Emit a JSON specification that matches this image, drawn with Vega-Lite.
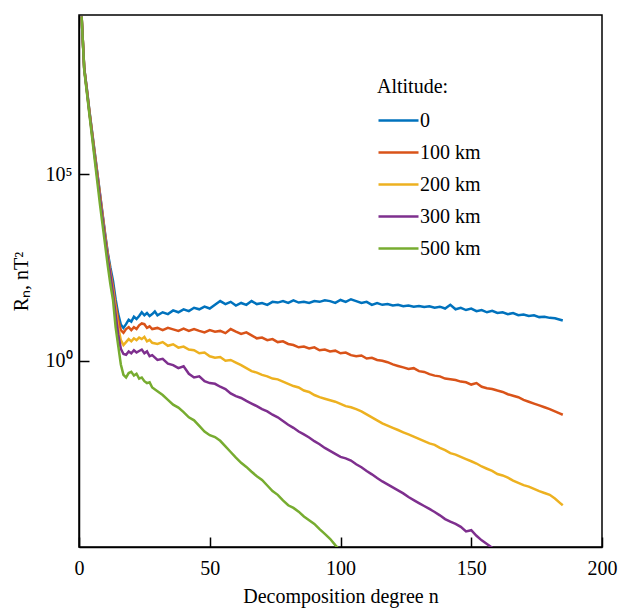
{
"$schema":"https://vega.github.io/schema/vega-lite/v6.json",
"width":523,"height":532,
"autosize":{"type":"none"},
"padding":{"left":79,"top":15,"right":16,"bottom":61},
"background":"white",
"config":{"view":{"stroke":"black","strokeWidth":1.5},"font":"Liberation Serif"},
"data":{"values":[
{"a":"0","n":1,"R":1.738e9},{"a":"0","n":2,"R":7.079e7},{"a":"0","n":3,"R":1.995e7},{"a":"0","n":4,"R":5.012e6},{"a":"0","n":5,"R":1.413e6},{"a":"0","n":6,"R":3.981e5},{"a":"0","n":7,"R":1.122e5},{"a":"0","n":8,"R":3.162e4},{"a":"0","n":9,"R":8913},{"a":"0","n":10,"R":2512},{"a":"0","n":11,"R":794.3},{"a":"0","n":12,"R":316.2},{"a":"0","n":13,"R":141.3},{"a":"0","n":14,"R":44.67},{"a":"0","n":15,"R":17.78},{"a":"0","n":16,"R":9.333},{"a":"0","n":17,"R":7.586},{"a":"0","n":18,"R":9.55},{"a":"0","n":19,"R":12.59},{"a":"0","n":20,"R":11.22},{"a":"0","n":21,"R":15.14},{"a":"0","n":22,"R":13.18},{"a":"0","n":23,"R":15.85},{"a":"0","n":24,"R":19.95},{"a":"0","n":25,"R":16.6},{"a":"0","n":26,"R":19.05},{"a":"0","n":27,"R":15.85},{"a":"0","n":28,"R":17.78},{"a":"0","n":29,"R":20.89},{"a":"0","n":30,"R":16.6},{"a":"0","n":32,"R":19.95},{"a":"0","n":34,"R":17.78},{"a":"0","n":36,"R":22.39},{"a":"0","n":38,"R":19.95},{"a":"0","n":40,"R":23.99},{"a":"0","n":42,"R":21.38},{"a":"0","n":44,"R":26.3},{"a":"0","n":46,"R":23.99},{"a":"0","n":48,"R":28.18},{"a":"0","n":50,"R":25.12},{"a":"0","n":52,"R":31.62},{"a":"0","n":54,"R":39.81},{"a":"0","n":56,"R":33.11},{"a":"0","n":58,"R":38.02},{"a":"0","n":60,"R":30.2},{"a":"0","n":62,"R":35.48},{"a":"0","n":64,"R":31.62},{"a":"0","n":66,"R":39.81},{"a":"0","n":68,"R":33.11},{"a":"0","n":70,"R":35.48},{"a":"0","n":72,"R":31.62},{"a":"0","n":74,"R":38.02},{"a":"0","n":76,"R":36.31},{"a":"0","n":78,"R":39.81},{"a":"0","n":80,"R":35.48},{"a":"0","n":82,"R":41.69},{"a":"0","n":84,"R":36.31},{"a":"0","n":86,"R":38.02},{"a":"0","n":88,"R":35.48},{"a":"0","n":90,"R":39.81},{"a":"0","n":92,"R":38.02},{"a":"0","n":94,"R":41.69},{"a":"0","n":96,"R":39.81},{"a":"0","n":98,"R":35.48},{"a":"0","n":100,"R":42.66},{"a":"0","n":102,"R":38.02},{"a":"0","n":104,"R":44.67},{"a":"0","n":106,"R":39.81},{"a":"0","n":108,"R":35.48},{"a":"0","n":110,"R":38.02},{"a":"0","n":112,"R":31.62},{"a":"0","n":114,"R":35.48},{"a":"0","n":116,"R":31.62},{"a":"0","n":118,"R":33.11},{"a":"0","n":120,"R":30.2},{"a":"0","n":122,"R":31.62},{"a":"0","n":124,"R":28.84},{"a":"0","n":126,"R":30.2},{"a":"0","n":128,"R":28.18},{"a":"0","n":130,"R":29.51},{"a":"0","n":132,"R":27.54},{"a":"0","n":134,"R":28.84},{"a":"0","n":136,"R":26.3},{"a":"0","n":138,"R":28.18},{"a":"0","n":140,"R":25.12},{"a":"0","n":142,"R":31.62},{"a":"0","n":144,"R":23.99},{"a":"0","n":146,"R":26.3},{"a":"0","n":148,"R":22.91},{"a":"0","n":150,"R":25.12},{"a":"0","n":152,"R":21.38},{"a":"0","n":154,"R":22.91},{"a":"0","n":156,"R":19.95},{"a":"0","n":158,"R":21.88},{"a":"0","n":160,"R":19.05},{"a":"0","n":162,"R":19.95},{"a":"0","n":164,"R":17.78},{"a":"0","n":166,"R":19.05},{"a":"0","n":168,"R":16.6},{"a":"0","n":170,"R":17.38},{"a":"0","n":172,"R":15.85},{"a":"0","n":174,"R":16.6},{"a":"0","n":176,"R":14.79},{"a":"0","n":178,"R":15.14},{"a":"0","n":180,"R":14.13},{"a":"0","n":182,"R":13.8},{"a":"0","n":184,"R":12.59},{"a":"0","n":185,"R":12.02},
{"a":"100 km","n":1,"R":1.738e9},{"a":"100 km","n":2,"R":7.079e7},{"a":"100 km","n":3,"R":1.905e7},{"a":"100 km","n":4,"R":4.786e6},{"a":"100 km","n":5,"R":1.318e6},{"a":"100 km","n":6,"R":3.715e5},{"a":"100 km","n":7,"R":1.047e5},{"a":"100 km","n":8,"R":2.951e4},{"a":"100 km","n":9,"R":8318},{"a":"100 km","n":10,"R":2344},{"a":"100 km","n":11,"R":707.9},{"a":"100 km","n":12,"R":251.2},{"a":"100 km","n":13,"R":100},{"a":"100 km","n":14,"R":31.62},{"a":"100 km","n":15,"R":12.59},{"a":"100 km","n":16,"R":6.607},{"a":"100 km","n":17,"R":5.623},{"a":"100 km","n":18,"R":7.079},{"a":"100 km","n":19,"R":7.943},{"a":"100 km","n":20,"R":6.607},{"a":"100 km","n":21,"R":7.943},{"a":"100 km","n":22,"R":7.079},{"a":"100 km","n":23,"R":8.913},{"a":"100 km","n":24,"R":10},{"a":"100 km","n":25,"R":9.55},{"a":"100 km","n":26,"R":7.586},{"a":"100 km","n":27,"R":8.318},{"a":"100 km","n":28,"R":7.079},{"a":"100 km","n":30,"R":7.586},{"a":"100 km","n":32,"R":6.607},{"a":"100 km","n":34,"R":7.586},{"a":"100 km","n":36,"R":6.918},{"a":"100 km","n":38,"R":6.31},{"a":"100 km","n":40,"R":7.244},{"a":"100 km","n":42,"R":6.31},{"a":"100 km","n":44,"R":7.079},{"a":"100 km","n":46,"R":6.31},{"a":"100 km","n":48,"R":5.754},{"a":"100 km","n":50,"R":6.607},{"a":"100 km","n":52,"R":6.026},{"a":"100 km","n":54,"R":6.31},{"a":"100 km","n":56,"R":5.495},{"a":"100 km","n":58,"R":7.079},{"a":"100 km","n":60,"R":6.026},{"a":"100 km","n":62,"R":5.248},{"a":"100 km","n":64,"R":5.754},{"a":"100 km","n":66,"R":4.786},{"a":"100 km","n":68,"R":3.981},{"a":"100 km","n":70,"R":4.169},{"a":"100 km","n":72,"R":3.548},{"a":"100 km","n":74,"R":3.802},{"a":"100 km","n":76,"R":3.162},{"a":"100 km","n":78,"R":3.311},{"a":"100 km","n":80,"R":2.818},{"a":"100 km","n":82,"R":2.63},{"a":"100 km","n":84,"R":2.291},{"a":"100 km","n":86,"R":2.399},{"a":"100 km","n":88,"R":2.138},{"a":"100 km","n":90,"R":2.291},{"a":"100 km","n":92,"R":1.905},{"a":"100 km","n":94,"R":1.995},{"a":"100 km","n":96,"R":1.778},{"a":"100 km","n":98,"R":1.862},{"a":"100 km","n":100,"R":1.585},{"a":"100 km","n":102,"R":1.66},{"a":"100 km","n":104,"R":1.413},{"a":"100 km","n":106,"R":1.318},{"a":"100 km","n":108,"R":1.38},{"a":"100 km","n":110,"R":1.148},{"a":"100 km","n":112,"R":1.202},{"a":"100 km","n":114,"R":1.047},{"a":"100 km","n":116,"R":1.0},{"a":"100 km","n":118,"R":0.912},{"a":"100 km","n":120,"R":0.794},{"a":"100 km","n":122,"R":0.724},{"a":"100 km","n":124,"R":0.661},{"a":"100 km","n":126,"R":0.603},{"a":"100 km","n":128,"R":0.631},{"a":"100 km","n":130,"R":0.525},{"a":"100 km","n":132,"R":0.501},{"a":"100 km","n":134,"R":0.437},{"a":"100 km","n":136,"R":0.398},{"a":"100 km","n":138,"R":0.38},{"a":"100 km","n":140,"R":0.331},{"a":"100 km","n":142,"R":0.316},{"a":"100 km","n":144,"R":0.302},{"a":"100 km","n":146,"R":0.275},{"a":"100 km","n":148,"R":0.263},{"a":"100 km","n":150,"R":0.229},{"a":"100 km","n":152,"R":0.251},{"a":"100 km","n":154,"R":0.2},{"a":"100 km","n":156,"R":0.182},{"a":"100 km","n":158,"R":0.174},{"a":"100 km","n":160,"R":0.158},{"a":"100 km","n":162,"R":0.145},{"a":"100 km","n":164,"R":0.126},{"a":"100 km","n":166,"R":0.115},{"a":"100 km","n":168,"R":0.105},{"a":"100 km","n":170,"R":0.0891},{"a":"100 km","n":172,"R":0.0794},{"a":"100 km","n":174,"R":0.0708},{"a":"100 km","n":176,"R":0.0631},{"a":"100 km","n":178,"R":0.0562},{"a":"100 km","n":180,"R":0.0501},{"a":"100 km","n":182,"R":0.0437},{"a":"100 km","n":184,"R":0.038},{"a":"100 km","n":185,"R":0.0355},
{"a":"200 km","n":1,"R":1.738e9},{"a":"200 km","n":2,"R":6.918e7},{"a":"200 km","n":3,"R":1.82e7},{"a":"200 km","n":4,"R":4.571e6},{"a":"200 km","n":5,"R":1.259e6},{"a":"200 km","n":6,"R":3.467e5},{"a":"200 km","n":7,"R":9.55e4},{"a":"200 km","n":8,"R":2.692e4},{"a":"200 km","n":9,"R":7586},{"a":"200 km","n":10,"R":2138},{"a":"200 km","n":11,"R":631},{"a":"200 km","n":12,"R":223.9},{"a":"200 km","n":13,"R":79.43},{"a":"200 km","n":14,"R":25.12},{"a":"200 km","n":15,"R":7.943},{"a":"200 km","n":16,"R":3.548},{"a":"200 km","n":17,"R":2.63},{"a":"200 km","n":18,"R":3.162},{"a":"200 km","n":19,"R":3.802},{"a":"200 km","n":20,"R":3.311},{"a":"200 km","n":21,"R":3.981},{"a":"200 km","n":22,"R":3.548},{"a":"200 km","n":23,"R":4.169},{"a":"200 km","n":24,"R":3.802},{"a":"200 km","n":25,"R":4.365},{"a":"200 km","n":26,"R":3.311},{"a":"200 km","n":27,"R":3.631},{"a":"200 km","n":28,"R":3.02},{"a":"200 km","n":30,"R":2.818},{"a":"200 km","n":32,"R":3.162},{"a":"200 km","n":34,"R":2.512},{"a":"200 km","n":36,"R":2.754},{"a":"200 km","n":38,"R":2.239},{"a":"200 km","n":40,"R":2.399},{"a":"200 km","n":42,"R":1.995},{"a":"200 km","n":44,"R":1.905},{"a":"200 km","n":46,"R":1.585},{"a":"200 km","n":48,"R":1.66},{"a":"200 km","n":50,"R":1.318},{"a":"200 km","n":52,"R":1.202},{"a":"200 km","n":54,"R":1.259},{"a":"200 km","n":56,"R":1.0},{"a":"200 km","n":58,"R":1.047},{"a":"200 km","n":60,"R":0.891},{"a":"200 km","n":62,"R":0.759},{"a":"200 km","n":64,"R":0.631},{"a":"200 km","n":66,"R":0.525},{"a":"200 km","n":68,"R":0.479},{"a":"200 km","n":70,"R":0.417},{"a":"200 km","n":72,"R":0.38},{"a":"200 km","n":74,"R":0.331},{"a":"200 km","n":76,"R":0.316},{"a":"200 km","n":78,"R":0.275},{"a":"200 km","n":80,"R":0.24},{"a":"200 km","n":82,"R":0.209},{"a":"200 km","n":84,"R":0.191},{"a":"200 km","n":86,"R":0.158},{"a":"200 km","n":88,"R":0.145},{"a":"200 km","n":90,"R":0.12},{"a":"200 km","n":92,"R":0.105},{"a":"200 km","n":94,"R":0.0955},{"a":"200 km","n":96,"R":0.0871},{"a":"200 km","n":98,"R":0.0794},{"a":"200 km","n":100,"R":0.0692},{"a":"200 km","n":102,"R":0.0603},{"a":"200 km","n":104,"R":0.0562},{"a":"200 km","n":106,"R":0.0501},{"a":"200 km","n":108,"R":0.0437},{"a":"200 km","n":110,"R":0.0363},{"a":"200 km","n":112,"R":0.0302},{"a":"200 km","n":114,"R":0.0251},{"a":"200 km","n":116,"R":0.0209},{"a":"200 km","n":118,"R":0.0182},{"a":"200 km","n":120,"R":0.0158},{"a":"200 km","n":122,"R":0.0138},{"a":"200 km","n":124,"R":0.012},{"a":"200 km","n":126,"R":0.0105},{"a":"200 km","n":128,"R":0.00912},{"a":"200 km","n":130,"R":0.00794},{"a":"200 km","n":132,"R":0.00692},{"a":"200 km","n":134,"R":0.00603},{"a":"200 km","n":136,"R":0.0055},{"a":"200 km","n":138,"R":0.00457},{"a":"200 km","n":140,"R":0.00398},{"a":"200 km","n":142,"R":0.00331},{"a":"200 km","n":144,"R":0.00302},{"a":"200 km","n":146,"R":0.00263},{"a":"200 km","n":148,"R":0.00229},{"a":"200 km","n":150,"R":0.002},{"a":"200 km","n":152,"R":0.00174},{"a":"200 km","n":154,"R":0.00145},{"a":"200 km","n":156,"R":0.00126},{"a":"200 km","n":158,"R":0.0011},{"a":"200 km","n":160,"R":0.000912},{"a":"200 km","n":162,"R":0.000832},{"a":"200 km","n":164,"R":0.000724},{"a":"200 km","n":166,"R":0.000603},{"a":"200 km","n":168,"R":0.000525},{"a":"200 km","n":170,"R":0.000457},{"a":"200 km","n":172,"R":0.000417},{"a":"200 km","n":174,"R":0.000363},{"a":"200 km","n":176,"R":0.000316},{"a":"200 km","n":178,"R":0.000282},{"a":"200 km","n":180,"R":0.000251},{"a":"200 km","n":182,"R":0.0002},{"a":"200 km","n":184,"R":0.000151},{"a":"200 km","n":185,"R":0.000132},
{"a":"300 km","n":1,"R":1.738e9},{"a":"300 km","n":2,"R":6.761e7},{"a":"300 km","n":3,"R":1.738e7},{"a":"300 km","n":4,"R":4.365e6},{"a":"300 km","n":5,"R":1.175e6},{"a":"300 km","n":6,"R":3.162e5},{"a":"300 km","n":7,"R":8.71e4},{"a":"300 km","n":8,"R":2.399e4},{"a":"300 km","n":9,"R":6607},{"a":"300 km","n":10,"R":1862},{"a":"300 km","n":11,"R":562.3},{"a":"300 km","n":12,"R":199.5},{"a":"300 km","n":13,"R":63.1},{"a":"300 km","n":14,"R":17.78},{"a":"300 km","n":15,"R":5.012},{"a":"300 km","n":16,"R":2.089},{"a":"300 km","n":17,"R":1.514},{"a":"300 km","n":18,"R":1.445},{"a":"300 km","n":19,"R":1.778},{"a":"300 km","n":20,"R":1.585},{"a":"300 km","n":21,"R":1.905},{"a":"300 km","n":22,"R":1.66},{"a":"300 km","n":23,"R":1.82},{"a":"300 km","n":24,"R":1.995},{"a":"300 km","n":25,"R":1.585},{"a":"300 km","n":26,"R":1.778},{"a":"300 km","n":27,"R":1.318},{"a":"300 km","n":28,"R":1.413},{"a":"300 km","n":30,"R":1.047},{"a":"300 km","n":32,"R":1.122},{"a":"300 km","n":34,"R":0.832},{"a":"300 km","n":36,"R":0.759},{"a":"300 km","n":38,"R":0.631},{"a":"300 km","n":40,"R":0.708},{"a":"300 km","n":42,"R":0.447},{"a":"300 km","n":44,"R":0.355},{"a":"300 km","n":46,"R":0.38},{"a":"300 km","n":48,"R":0.282},{"a":"300 km","n":50,"R":0.251},{"a":"300 km","n":52,"R":0.24},{"a":"300 km","n":54,"R":0.2},{"a":"300 km","n":56,"R":0.174},{"a":"300 km","n":58,"R":0.132},{"a":"300 km","n":60,"R":0.112},{"a":"300 km","n":62,"R":0.1},{"a":"300 km","n":64,"R":0.0832},{"a":"300 km","n":66,"R":0.0708},{"a":"300 km","n":68,"R":0.0603},{"a":"300 km","n":70,"R":0.0501},{"a":"300 km","n":72,"R":0.0437},{"a":"300 km","n":74,"R":0.0355},{"a":"300 km","n":76,"R":0.0302},{"a":"300 km","n":78,"R":0.024},{"a":"300 km","n":80,"R":0.0191},{"a":"300 km","n":82,"R":0.0158},{"a":"300 km","n":84,"R":0.0126},{"a":"300 km","n":86,"R":0.0105},{"a":"300 km","n":88,"R":0.00871},{"a":"300 km","n":90,"R":0.00692},{"a":"300 km","n":92,"R":0.00575},{"a":"300 km","n":94,"R":0.00457},{"a":"300 km","n":96,"R":0.0038},{"a":"300 km","n":98,"R":0.00316},{"a":"300 km","n":100,"R":0.00263},{"a":"300 km","n":102,"R":0.0024},{"a":"300 km","n":104,"R":0.00209},{"a":"300 km","n":106,"R":0.00166},{"a":"300 km","n":108,"R":0.00138},{"a":"300 km","n":110,"R":0.0011},{"a":"300 km","n":112,"R":0.000891},{"a":"300 km","n":114,"R":0.000708},{"a":"300 km","n":116,"R":0.000575},{"a":"300 km","n":118,"R":0.000479},{"a":"300 km","n":120,"R":0.000398},{"a":"300 km","n":122,"R":0.000331},{"a":"300 km","n":124,"R":0.000275},{"a":"300 km","n":126,"R":0.000219},{"a":"300 km","n":128,"R":0.000182},{"a":"300 km","n":130,"R":0.000151},{"a":"300 km","n":132,"R":0.000126},{"a":"300 km","n":134,"R":0.000105},{"a":"300 km","n":136,"R":0.0000871},{"a":"300 km","n":138,"R":0.0000708},{"a":"300 km","n":140,"R":0.0000562},{"a":"300 km","n":142,"R":0.0000479},{"a":"300 km","n":144,"R":0.0000417},{"a":"300 km","n":146,"R":0.0000347},{"a":"300 km","n":148,"R":0.0000263},{"a":"300 km","n":150,"R":0.0000282},{"a":"300 km","n":152,"R":0.00002},{"a":"300 km","n":154,"R":0.0000151},{"a":"300 km","n":156,"R":0.000012},{"a":"300 km","n":158,"R":0.00000955},{"a":"300 km","n":160,"R":0.00000708},
{"a":"500 km","n":1,"R":1.738e9},{"a":"500 km","n":2,"R":6.31e7},{"a":"500 km","n":3,"R":1.585e7},{"a":"500 km","n":4,"R":3.981e6},{"a":"500 km","n":5,"R":1e6},{"a":"500 km","n":6,"R":2.512e5},{"a":"500 km","n":7,"R":6.31e4},{"a":"500 km","n":8,"R":1.585e4},{"a":"500 km","n":9,"R":4467},{"a":"500 km","n":10,"R":1259},{"a":"500 km","n":11,"R":354.8},{"a":"500 km","n":12,"R":112.2},{"a":"500 km","n":13,"R":42.66},{"a":"500 km","n":14,"R":7.943},{"a":"500 km","n":15,"R":2.512},{"a":"500 km","n":16,"R":0.794},{"a":"500 km","n":17,"R":0.417},{"a":"500 km","n":18,"R":0.355},{"a":"500 km","n":19,"R":0.468},{"a":"500 km","n":20,"R":0.501},{"a":"500 km","n":21,"R":0.398},{"a":"500 km","n":22,"R":0.447},{"a":"500 km","n":23,"R":0.331},{"a":"500 km","n":24,"R":0.355},{"a":"500 km","n":25,"R":0.282},{"a":"500 km","n":26,"R":0.251},{"a":"500 km","n":27,"R":0.263},{"a":"500 km","n":28,"R":0.191},{"a":"500 km","n":30,"R":0.151},{"a":"500 km","n":32,"R":0.12},{"a":"500 km","n":34,"R":0.0891},{"a":"500 km","n":36,"R":0.0661},{"a":"500 km","n":38,"R":0.055},{"a":"500 km","n":40,"R":0.0417},{"a":"500 km","n":42,"R":0.0302},{"a":"500 km","n":44,"R":0.0251},{"a":"500 km","n":46,"R":0.0178},{"a":"500 km","n":48,"R":0.0126},{"a":"500 km","n":50,"R":0.01},{"a":"500 km","n":52,"R":0.00891},{"a":"500 km","n":54,"R":0.00708},{"a":"500 km","n":56,"R":0.00501},{"a":"500 km","n":58,"R":0.00355},{"a":"500 km","n":60,"R":0.00251},{"a":"500 km","n":62,"R":0.00182},{"a":"500 km","n":64,"R":0.00141},{"a":"500 km","n":66,"R":0.00105},{"a":"500 km","n":68,"R":0.000794},{"a":"500 km","n":70,"R":0.000631},{"a":"500 km","n":72,"R":0.000447},{"a":"500 km","n":74,"R":0.000316},{"a":"500 km","n":76,"R":0.000251},{"a":"500 km","n":78,"R":0.000178},{"a":"500 km","n":80,"R":0.000132},{"a":"500 km","n":82,"R":0.000112},{"a":"500 km","n":84,"R":0.0000891},{"a":"500 km","n":86,"R":0.0000661},{"a":"500 km","n":88,"R":0.0000525},{"a":"500 km","n":90,"R":0.0000417},{"a":"500 km","n":92,"R":0.0000302},{"a":"500 km","n":94,"R":0.0000224},{"a":"500 km","n":96,"R":0.0000166},{"a":"500 km","n":98,"R":0.0000112},{"a":"500 km","n":100,"R":0.00000794}
]},
"mark":{"type":"line","strokeWidth":2.5,"clip":true},
"encoding":{
"x":{"field":"n","type":"quantitative","scale":{"domain":[0,200],"nice":false,"zero":false},
 "axis":{"title":"Decomposition degree n","values":[0,50,100,150,200],"grid":false,"labelFlush":false,"tickSize":-10,"tickColor":"black","tickWidth":1.5,"domainColor":"black","domainWidth":1.5,"labelFont":"Liberation Serif","labelFontSize":20,"labelColor":"black","labelPadding":21,"titleFont":"Liberation Serif","titleFontSize":20,"titleFontWeight":"normal","titleColor":"black","titlePadding":8}},
"y":{"field":"R","type":"quantitative","scale":{"type":"log","domain":[1e-5,1.9e9],"nice":false},
 "axis":{"title":"Rₙ, nT²","values":[1,100000],"labelExpr":"datum.value == 1 ? '10⁰' : '10⁵'","grid":false,"labelFlush":false,"tickSize":-10,"tickColor":"black","tickWidth":1.5,"domainColor":"black","domainWidth":1.5,"labelFont":"Liberation Serif","labelFontSize":20,"labelColor":"black","labelPadding":17,"titleFont":"Liberation Serif","titleFontSize":20,"titleFontWeight":"normal","titleColor":"black","titlePadding":14}},
"color":{"field":"a","type":"nominal","scale":{"domain":["0","100 km","200 km","300 km","500 km"],"range":["#0072BD","#D95319","#EDB120","#7E2F8E","#77AC30"]},
 "legend":{"orient":"none","legendX":298,"legendY":62,"title":"Altitude:","titleFont":"Liberation Serif","titleFontSize":20,"titleFontWeight":"normal","titleColor":"black","titlePadding":2,"labelFont":"Liberation Serif","labelFontSize":20,"labelColor":"black","symbolType":"stroke","symbolSize":1600,"symbolStrokeWidth":2.5,"rowPadding":-1,"labelOffset":0}}
}
}
